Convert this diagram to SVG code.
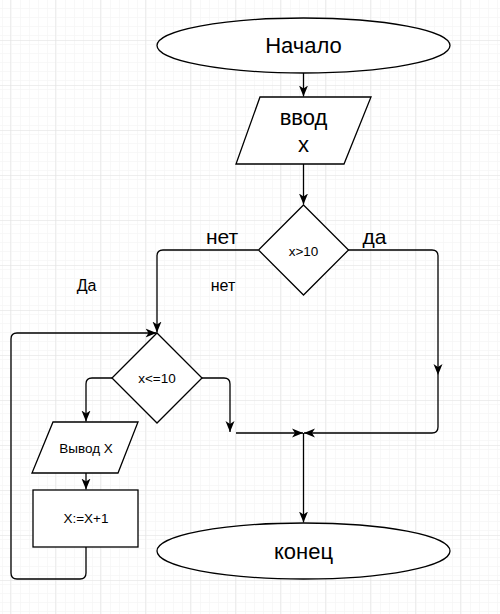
<svg xmlns="http://www.w3.org/2000/svg" width="500" height="614" viewBox="0 0 500 614">
  <defs>
    <pattern id="minor" x="10" y="40" width="9" height="9" patternUnits="userSpaceOnUse">
      <path d="M0,0 L0,9 M0,0 L9,0" fill="none" stroke="#f2f2f2" stroke-width="1"/>
    </pattern>
    <pattern id="major" x="10" y="40" width="45" height="45" patternUnits="userSpaceOnUse">
      <rect width="45" height="45" fill="url(#minor)"/>
      <path d="M0,0 L0,45 M0,0 L45,0" fill="none" stroke="#dedede" stroke-width="1"/>
    </pattern>
    <marker id="arr" markerUnits="userSpaceOnUse" markerWidth="12" markerHeight="10" viewBox="0 0 12 10" refX="11" refY="5" orient="auto">
      <path d="M0,0.5 L11,5 L0,9.5 L3,5 z" fill="#000"/>
    </marker>
    <style>
      .shape { fill: #fff; stroke: #000; stroke-width: 1.3; }
      .edge { fill: none; stroke: #000; stroke-width: 1.3; marker-end: url(#arr); }
      text { font-family: "Liberation Sans", Arial, sans-serif; fill: #000; text-anchor: middle; dominant-baseline: central; }
      .big { font-size: 22px; }
      .mid { font-size: 21px; }
      .lbl { font-size: 16px; }
      .small { font-size: 13.5px; }
    </style>
  </defs>
  <rect width="500" height="614" fill="#fff"/>
  <rect width="500" height="614" fill="url(#major)"/>

  <g id="edges">
    <path class="edge" d="M303.5,73 L303.5,96.5"/>
    <path class="edge" d="M303.5,164 L303.5,204.5"/>
    <path class="edge" d="M258,250 L163,250 Q157,250 157,256 L157,332.5"/>
    <path class="edge" d="M348,250 L432,250 Q438,250 438,256 L438,375"/>
    <path class="edge" d="M438,375 L438,427 Q438,433 432,433 L304,433"/>
    <path class="edge" d="M202,378 L224,378 Q230,378 230,384 L230,432"/>
    <path class="edge" d="M236,433 L303,433"/>
    <path class="edge" d="M303.5,433 L303.5,522.5"/>
    <path class="edge" d="M112,378 L92,378 Q86,378 86,384 L86,421.5"/>
    <path class="edge" d="M86,473 L86,489.5"/>
    <path class="edge" d="M86,547 L86,573 Q86,579 80,579 L17,579 Q11,579 11,573 L11,339 Q11,333 17,333 L156.5,333"/>
  </g>

  <g id="start">
    <ellipse class="shape" cx="303.5" cy="45.5" rx="146.5" ry="27.5"/>
    <text class="big" x="303.5" y="45.5">Начало</text>
  </g>
  <g id="input">
    <polygon class="shape" points="260,97 371,97 344,164 236,164"/>
    <text class="big" x="303.5" y="117">ввод</text>
    <text class="big" x="303.5" y="144">x</text>
  </g>
  <g id="cond1">
    <polygon class="shape" points="303.5,205 348.5,250 303.5,295 258.5,250"/>
    <text class="small" x="303.5" y="251">x&gt;10</text>
  </g>
  <g id="cond2">
    <polygon class="shape" points="157,333 202,378 157,423 112,378"/>
    <text class="small" x="157" y="378">x&lt;=10</text>
  </g>
  <g id="output">
    <polygon class="shape" points="53,422 138,422 118,473 32,473"/>
    <text class="small" x="86" y="448">Вывод X</text>
  </g>
  <g id="increment">
    <rect class="shape" x="33" y="490" width="105" height="57"/>
    <text class="small" x="86" y="518">X:=X+1</text>
  </g>
  <g id="end">
    <ellipse class="shape" cx="303.5" cy="551" rx="146.5" ry="28"/>
    <text class="big" x="303.5" y="551">конец</text>
  </g>

  <g id="labels">
    <text class="mid" x="222" y="236">нет</text>
    <text class="mid" x="374.5" y="236">да</text>
    <text class="lbl" x="86.5" y="285">Да</text>
    <text class="lbl" x="223" y="285">нет</text>
  </g>
</svg>
